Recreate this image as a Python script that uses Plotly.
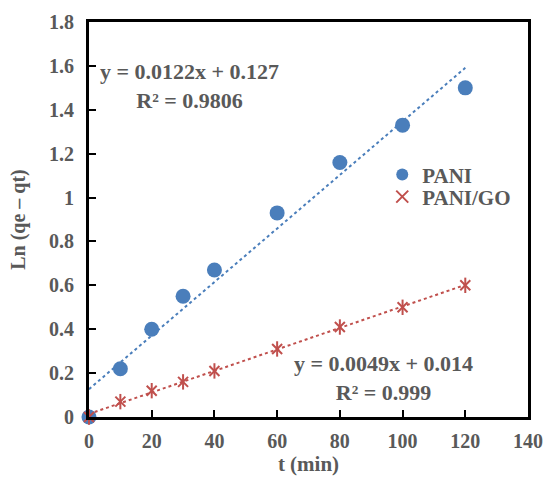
import plotly.graph_objects as go

t_min = [0, 10, 20, 30, 40, 60, 80, 100, 120]
pani = [0, 0.22, 0.40, 0.55, 0.67, 0.93, 1.16, 1.33, 1.50]
pani_go = [0, 0.07, 0.12, 0.16, 0.21, 0.31, 0.41, 0.50, 0.60]

pani_fit = (0.0122, 0.127)
pani_go_fit = (0.0049, 0.014)
fit_x = [0, 120]

x_ticks = [0, 20, 40, 60, 80, 100, 120, 140]
y_ticks = [0, 0.2, 0.4, 0.6, 0.8, 1.0, 1.2, 1.4, 1.6, 1.8]
y_tick_text = ["0", "0.2", "0.4", "0.6", "0.8", "1", "1.2", "1.4", "1.6", "1.8"]

BLUE = "#4A7EBB"
RED = "#C0504D"
GREY = "#595959"
FONT = "Liberation Serif"
bold = lambda s: dict(family=FONT, size=s, color=GREY, weight="bold")

fig = go.Figure()

fig.add_trace(go.Scatter(
    x=fit_x, y=[pani_fit[0] * v + pani_fit[1] for v in fit_x],
    mode="lines", line=dict(color=BLUE, width=2, dash="dot"), showlegend=False))
fig.add_trace(go.Scatter(
    x=fit_x, y=[pani_go_fit[0] * v + pani_go_fit[1] for v in fit_x],
    mode="lines", line=dict(color=RED, width=2, dash="dot"), showlegend=False))

fig.add_trace(go.Scatter(
    x=t_min, y=pani, mode="markers", name="PANI", legend="legend", cliponaxis=False,
    marker=dict(symbol="circle", size=15, color=BLUE)))
fig.add_trace(go.Scatter(
    x=t_min, y=pani_go, mode="markers", name="PANI/GO", legend="legend2", cliponaxis=False,
    marker=dict(symbol="x-thin-open", size=10, color=RED, line=dict(color=RED, width=2))))
fig.add_trace(go.Scatter(
    x=t_min, y=pani_go, mode="markers", showlegend=False, cliponaxis=False,
    marker=dict(symbol="line-ns-open", size=11, color=RED, line=dict(color=RED, width=2))))

fig.add_annotation(x=32, y=1.51, xref="x", yref="y", showarrow=False,
                   text="y = 0.0122x + 0.127<br>R² = 0.9806", font=bold(22))
fig.add_annotation(x=94, y=0.18, xref="x", yref="y", showarrow=False,
                   text="y = 0.0049x + 0.014<br>R² = 0.999", font=bold(22))

axis_common = dict(
    showgrid=False, zeroline=False, showline=True, linecolor="black", linewidth=3,
    mirror=True, ticks="inside", ticklen=7, tickwidth=2, tickcolor="black",
    tickfont=bold(20), automargin=False,
)

legend_common = dict(xanchor="left", yanchor="middle", bgcolor="rgba(0,0,0,0)",
                     itemsizing="constant", font=bold(21), itemwidth=30)

fig.update_layout(
    width=546, height=477,
    margin=dict(l=89, r=18, t=22, b=60),
    paper_bgcolor="white", plot_bgcolor="white",
    font=dict(family=FONT, color=GREY),
    xaxis=dict(range=[0, 140], tickvals=x_ticks,
               title=dict(text="t (min)", font=bold(21), standoff=6),
               ticklabelstandoff=4,
               **axis_common),
    yaxis=dict(range=[0, 1.8], tickvals=y_ticks, ticktext=y_tick_text,
               title=dict(text="Ln (qe – qt)", font=bold(20), standoff=19),
               ticklabelstandoff=8,
               **axis_common),
    legend=dict(x=0.668, y=0.613, **legend_common),
    legend2=dict(x=0.668, y=0.557, **legend_common),
    showlegend=True,
)

fig.write_html("out.html", config={"displayModeBar": False},
               post_script="document.body.style.margin='0px';")
